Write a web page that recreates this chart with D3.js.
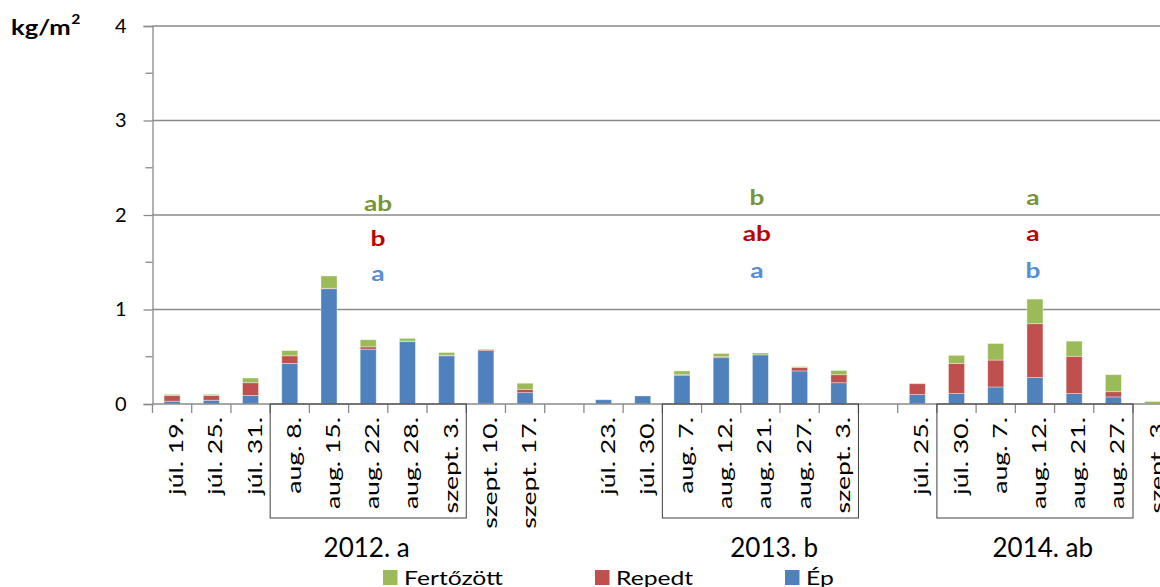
<!DOCTYPE html>
<html><head><meta charset="utf-8">
<script src="https://cdn.jsdelivr.net/npm/d3@7"></script>
<style>
html,body{margin:0;padding:0;background:#fff;}
svg{display:block;font-family:Lato,"Liberation Sans",sans-serif;}
</style></head>
<body><svg id="c" width="1160" height="587"></svg>
<script>
// ---- data ----
const years = ["2012. a", "2013. b", "2014. ab"];
const cat2012 = ["júl. 19.","júl. 25.","júl. 31.","aug. 8.","aug. 15.","aug. 22.","aug. 28.","szept. 3.","szept. 10.","szept. 17."];
const cat2013 = ["júl. 23.","júl. 30.","aug. 7.","aug. 12.","aug. 21.","aug. 27.","szept. 3."];
const cat2014 = ["júl. 25.","júl. 30.","aug. 7.","aug. 12.","aug. 21.","aug. 27.","szept. 3."];
const ep2012   = [0.03,0.04,0.09,0.43,1.22,0.58,0.66,0.51,0.565,0.12];
const rep2012  = [0.06,0.05,0.135,0.08,0.005,0.025,0.005,0.005,0.012,0.035];
const fert2012 = [0.012,0.012,0.05,0.055,0.13,0.075,0.03,0.03,0.005,0.065];
const ep2013   = [0.045,0.085,0.305,0.49,0.52,0.35,0.225];
const rep2013  = [0,0,0.005,0.01,0,0.035,0.085];
const fert2013 = [0,0,0.04,0.035,0.02,0.01,0.045];
const ep2014   = [0.10,0.11,0.18,0.28,0.11,0.075,0.005];
const rep2014  = [0.115,0.32,0.285,0.57,0.395,0.055,0];
const fert2014 = [0.005,0.085,0.175,0.26,0.16,0.18,0.022];
const seriesNames = ["Fertőzött","Repedt","Ép"];
const yTicks = [0,1,2,3,4];
// significance letters per year: [Fertőzött, Repedt, Ép]
const letters2012 = ["ab","b","a"];
const letters2013 = ["b","ab","a"];
const letters2014 = ["a","a","b"];

// ---- build slots ----
const slots = [];
function addYear(cats, ep, rep, fert, yi){
  cats.forEach((c,i)=>slots.push({id:"s"+slots.length, label:c, ep:ep[i], rep:rep[i], fert:fert[i], year:yi}));
}
addYear(cat2012, ep2012, rep2012, fert2012, 0);
slots.push({id:"s"+slots.length, label:"", ep:0, rep:0, fert:0, empty:true});
addYear(cat2013, ep2013, rep2013, fert2013, 1);
slots.push({id:"s"+slots.length, label:"", ep:0, rep:0, fert:0, empty:true});
addYear(cat2014, ep2014, rep2014, fert2014, 2);

const colors = {ep:"#4F81BD", rep:"#C0504D", fert:"#9BBB59"};
const letterColors = ["#77933C","#C00000","#558ED5"];

const svg = d3.select("#c");
const x0 = 152.5, slotW = 39.22;
const x = d3.scaleBand().domain(slots.map(d=>d.id)).range([x0, x0 + slotW*slots.length]).padding(0);
const y = d3.scaleLinear().domain([0,4]).range([404, 26]);
const bw = x.bandwidth();
const barW = 16;
const xs = i => x("s"+i);

// gridlines
svg.append("g").selectAll("line").data(yTicks.filter(v=>v>0)).join("line")
  .attr("x1", x0).attr("x2", 1160).attr("y1", d=>y(d)).attr("y2", d=>y(d))
  .attr("stroke", "#8a8a8a").attr("stroke-width", 1.3);

// y axis
const yAxis = svg.append("g").attr("transform", `translate(${x0},0)`)
  .call(d3.axisLeft(y).tickValues(yTicks).tickSize(9).tickPadding(17).tickFormat(d3.format("d")));
yAxis.select(".domain").attr("stroke", "#8a8a8a").attr("stroke-width", 1.3);
yAxis.selectAll(".tick line").attr("stroke", "#8a8a8a").attr("stroke-width", 1.3);
yAxis.selectAll(".tick text").attr("font-size", 20).attr("fill", "#000").attr("font-family", "Lato, sans-serif");
// minor ticks
svg.append("g").selectAll("line").data(d3.range(0.5,4,1)).join("line")
  .attr("x1", x0-7).attr("x2", x0).attr("y1", d=>y(d)).attr("y2", d=>y(d))
  .attr("stroke", "#8a8a8a").attr("stroke-width", 1.3);

const unit = svg.append("text").attr("transform", "translate(11,35) scale(1.22,1)")
  .attr("font-size", 21).attr("font-weight", "bold").attr("fill", "#000");
unit.append("tspan").text("kg/m");
unit.append("tspan").attr("font-size", 25).attr("font-weight", "normal").text("²");

// bars
const stackKeys = ["ep","rep","fert"];
const stacked = d3.stack().keys(stackKeys)(slots);
svg.append("g").selectAll("g").data(stacked).join("g")
  .attr("fill", d=>colors[d.key])
  .selectAll("rect").data(d=>d.filter(p=>p[1]-p[0]>0)).join("rect")
  .attr("x", d=>x(d.data.id) + (bw-barW)/2)
  .attr("width", barW)
  .attr("y", d=>y(d[1]))
  .attr("height", d=>y(d[0]) - y(d[1]))
  .attr("stroke", "rgba(255,255,255,0.45)").attr("stroke-width", 0.8);

// x axis line + ticks at slot boundaries
svg.append("line").attr("x1", x0).attr("x2", 1160).attr("y1", y(0)).attr("y2", y(0))
  .attr("stroke", "#8a8a8a").attr("stroke-width", 1.5);
svg.append("g").selectAll("line").data(d3.range(slots.length+1)).join("line")
  .attr("x1", i=>x0 + i*bw).attr("x2", i=>x0 + i*bw)
  .attr("y1", y(0)).attr("y2", y(0)+9)
  .attr("stroke", "#8a8a8a").attr("stroke-width", 1.3);

// category labels (rotated, stretched along reading direction)
svg.append("g").selectAll("text").data(slots.filter(d=>!d.empty)).join("text")
  .attr("transform", d=>`translate(${x(d.id)+bw/2+11},${y(0)+13}) rotate(-90) scale(1.4,1)`)
  .attr("text-anchor", "end")
  .attr("font-size", 19).attr("fill", "#000")
  .text(d=>d.label);

// group boxes
const boxes = [[3,7],[13,17],[20,24]];
svg.append("g").selectAll("rect").data(boxes).join("rect")
  .attr("x", d=>xs(d[0])).attr("width", d=>xs(d[1]) + bw - xs(d[0]))
  .attr("y", y(0)).attr("height", 518 - y(0))
  .attr("fill", "none").attr("stroke", "#404040").attr("stroke-width", 1);

// year labels
const yearPos = [5.46, 15.85, 22.7];
svg.append("g").selectAll("text").data(years).join("text")
  .attr("x", (d,i)=>x0 + yearPos[i]*bw).attr("y", 557)
  .attr("text-anchor", "middle").attr("font-size", 26).attr("fill", "#000")
  .text(d=>d);

// significance letters
const letterSets = [letters2012, letters2013, letters2014];
const letterPos = [5.75, 15.41, 22.45];
const letterVals = [[2.04,1.67,1.30],[2.105,1.72,1.333],[2.105,1.72,1.333]];
letterSets.forEach((set,gi)=>{
  svg.append("g").selectAll("text").data(set).join("text")
    .attr("transform", (d,i)=>`translate(${x0 + letterPos[gi]*bw},${y(letterVals[gi][i])}) scale(1.25,1)`)
    .attr("text-anchor", "middle").attr("font-size", 21).attr("font-weight", "bold")
    .attr("fill", (d,i)=>letterColors[i])
    .text(d=>d);
});

// legend
const legendX = [383, 595, 785];
const lg = svg.append("g").selectAll("g").data(seriesNames).join("g")
  .attr("transform", (d,i)=>`translate(${legendX[i]},570)`);
lg.append("rect").attr("width", 14.5).attr("height", 15)
  .attr("fill", (d,i)=>[colors.fert, colors.rep, colors.ep][i]);
lg.append("text").attr("transform", "translate(21,15) scale(1.3,1)")
  .attr("font-size", 19).attr("fill", "#000").text(d=>d);
</script>
</body></html>
